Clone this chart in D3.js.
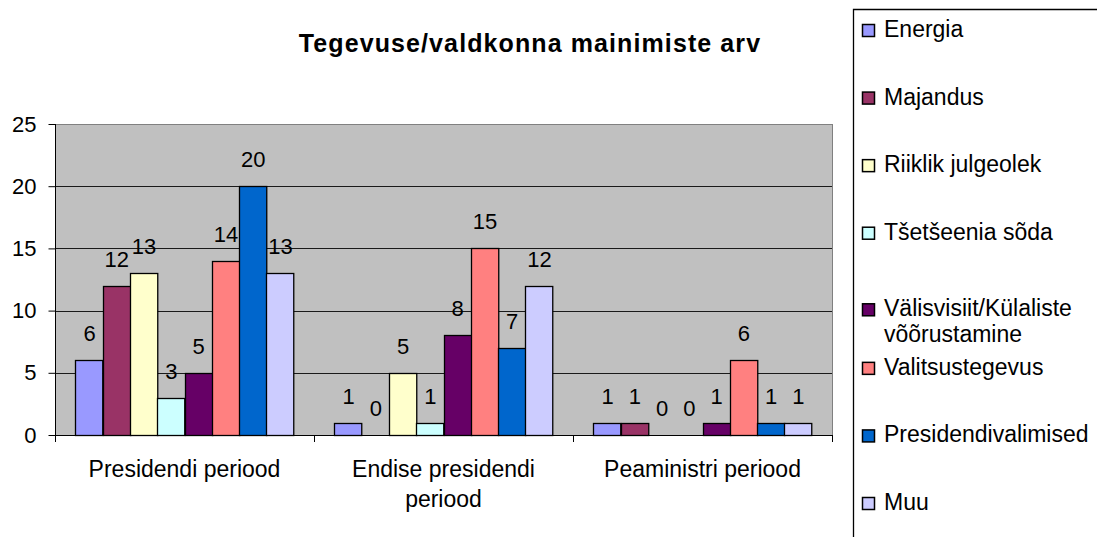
<!DOCTYPE html>
<html>
<head>
<meta charset="utf-8">
<script src="https://cdn.jsdelivr.net/npm/d3@7/dist/d3.min.js"></script>
<style>
  html, body { margin: 0; padding: 0; background: #fff; }
  svg { display: block; }
  text { font-family: "Liberation Sans", Arial, sans-serif; fill: #000; }
</style>
</head>
<body>
<svg id="chart" width="1097" height="537"></svg>
<script>
const title = "Tegevuse/valdkonna mainimiste arv";
const categories = ["Presidendi periood", "Endise presidendi periood", "Peaministri periood"];
const seriesNames = ["Energia", "Majandus", "Riiklik julgeolek", "Tšetšeenia sõda",
  "Välisvisiit/Külaliste võõrustamine", "Valitsustegevus", "Presidendivalimised", "Muu"];
const seriesColors = ["#9999FF", "#993366", "#FFFFCC", "#CCFFFF", "#660066", "#FF8080", "#0066CC", "#CCCCFF"];
const energia = [6, 1, 1];
const majandus = [12, 0, 1];
const riiklikJulgeolek = [13, 5, 0];
const tsetseeniaSoda = [3, 1, 0];
const valisvisiit = [5, 8, 1];
const valitsustegevus = [14, 15, 6];
const presidendivalimised = [20, 7, 1];
const muu = [13, 12, 1];
const yTicks = [0, 5, 10, 15, 20, 25];

const seriesValues = [energia, majandus, riiklikJulgeolek, tsetseeniaSoda, valisvisiit, valitsustegevus, presidendivalimised, muu];

const svg = d3.select("#chart");
const plot = { left: 55, right: 832, top: 124, bottom: 435 };

const x0 = d3.scaleBand().domain(categories).range([plot.left, plot.right]).paddingInner(0).paddingOuter(0);
const x1 = d3.scaleBand().domain(d3.range(seriesNames.length))
  .range([x0.bandwidth() * 0.75 / 9.5, x0.bandwidth() * (1 - 0.75 / 9.5)]).padding(0);
const y = d3.scaleLinear().domain([0, 25]).range([plot.bottom, plot.top]);

const TEXT_SIZE = 23, NUM_SIZE = 22;

// plot background
svg.append("rect")
  .attr("x", plot.left).attr("y", plot.top)
  .attr("width", plot.right - plot.left).attr("height", plot.bottom - plot.top)
  .attr("fill", "#C0C0C0").attr("stroke", "#808080").attr("stroke-width", 1)
  .attr("shape-rendering", "crispEdges");

// gridlines
svg.append("g").selectAll("line").data(yTicks.filter(d => d > 0 && d < 25)).join("line")
  .attr("x1", plot.left).attr("x2", plot.right)
  .attr("y1", d => Math.round(y(d)) + 0.5).attr("y2", d => Math.round(y(d)) + 0.5)
  .attr("stroke", "#1a1a1a").attr("stroke-width", 1);

// Y axis
const yAxis = d3.axisLeft(y).tickValues(yTicks).tickSize(7).tickPadding(12).tickFormat(d3.format("d"));
const yg = svg.append("g").attr("transform", `translate(${plot.left + 0.5},0)`).call(yAxis);
yg.select(".domain").remove();
yg.selectAll(".tick line").attr("stroke", "#000");
yg.selectAll(".tick text").attr("font-size", NUM_SIZE)
  .attr("font-family", "Liberation Sans, Arial, sans-serif").attr("fill", "#000");
svg.append("line").attr("x1", plot.left + 0.5).attr("x2", plot.left + 0.5)
  .attr("y1", plot.top).attr("y2", plot.bottom + 7).attr("stroke", "#000");

// bars
const groups = svg.append("g").selectAll("g").data(categories).join("g")
  .attr("transform", d => `translate(${x0(d)},0)`);
groups.each(function(cat, ci) {
  const g = d3.select(this);
  const vals = seriesValues.map((arr, si) => ({ si, v: arr[ci] }));
  g.selectAll("rect").data(vals.filter(d => d.v > 0)).join("rect")
    .attr("x", d => Math.round(x1(d.si)) + 0.5)
    .attr("y", d => Math.round(y(d.v)) + 0.5)
    .attr("width", x1.bandwidth())
    .attr("height", d => Math.round(y(0)) - Math.round(y(d.v)))
    .attr("fill", d => seriesColors[d.si])
    .attr("stroke", "#000").attr("stroke-width", 1.3);
  g.selectAll("text.val").data(vals).join("text")
    .attr("class", "val")
    .attr("x", d => x1(d.si) + x1.bandwidth() / 2 + 0.5)
    .attr("y", d => y(d.v) - 19)
    .attr("text-anchor", "middle")
    .attr("font-size", NUM_SIZE)
    .text(d => d.v);
});

// X axis
svg.append("line").attr("x1", plot.left).attr("x2", plot.right)
  .attr("y1", plot.bottom + 0.5).attr("y2", plot.bottom + 0.5).attr("stroke", "#000");
const boundaries = categories.map(c => x0(c)).concat([plot.right]);
svg.append("g").selectAll("line").data(boundaries).join("line")
  .attr("x1", d => Math.round(d) + 0.5).attr("x2", d => Math.round(d) + 0.5)
  .attr("y1", plot.bottom).attr("y2", plot.bottom + 7).attr("stroke", "#000");

function wrapLines(textSel, str, maxW) {
  const words = str.split(" ");
  const lines = [];
  let cur = "";
  for (const w of words) {
    const test = cur ? cur + " " + w : w;
    textSel.text(test);
    if (cur && textSel.node().getComputedTextLength() > maxW) {
      lines.push(cur); cur = w;
    } else cur = test;
  }
  if (cur) lines.push(cur);
  textSel.text(null);
  return lines;
}

// category labels
categories.forEach(c => {
  const t = svg.append("text").attr("text-anchor", "middle").attr("font-size", TEXT_SIZE);
  const lines = wrapLines(t, c, 240);
  const cx = x0(c) + x0.bandwidth() / 2;
  lines.forEach((ln, i) => {
    t.append("tspan").attr("x", cx).attr("y", 477 + i * 30).text(ln);
  });
});

// title
svg.append("text").attr("x", 530).attr("y", 52).attr("text-anchor", "middle")
  .attr("font-size", 25).attr("font-weight", "bold").attr("letter-spacing", "1.1px")
  .text(title);

// legend
svg.append("path").attr("d", "M853.5,545 L853.5,9.5 L1100,9.5")
  .attr("fill", "none").attr("stroke", "#000").attr("stroke-width", 1.3);
const legendTop = 37, legendStep = (510 - 37) / 7;
seriesNames.forEach((name, i) => {
  const t = svg.append("text").attr("font-size", TEXT_SIZE);
  const lines = wrapLines(t, name, 210);
  const base = legendTop + i * legendStep + (lines.length > 1 ? 9 : 0);
  lines.forEach((ln, k) => {
    t.append("tspan").attr("x", 884).attr("y", base + k * 26).text(ln);
  });
  svg.append("rect").attr("x", 862.5).attr("y", base - 12.5).attr("width", 12).attr("height", 12)
    .attr("fill", seriesColors[i]).attr("stroke", "#000").attr("stroke-width", 1.5);
});
</script>
</body>
</html>
